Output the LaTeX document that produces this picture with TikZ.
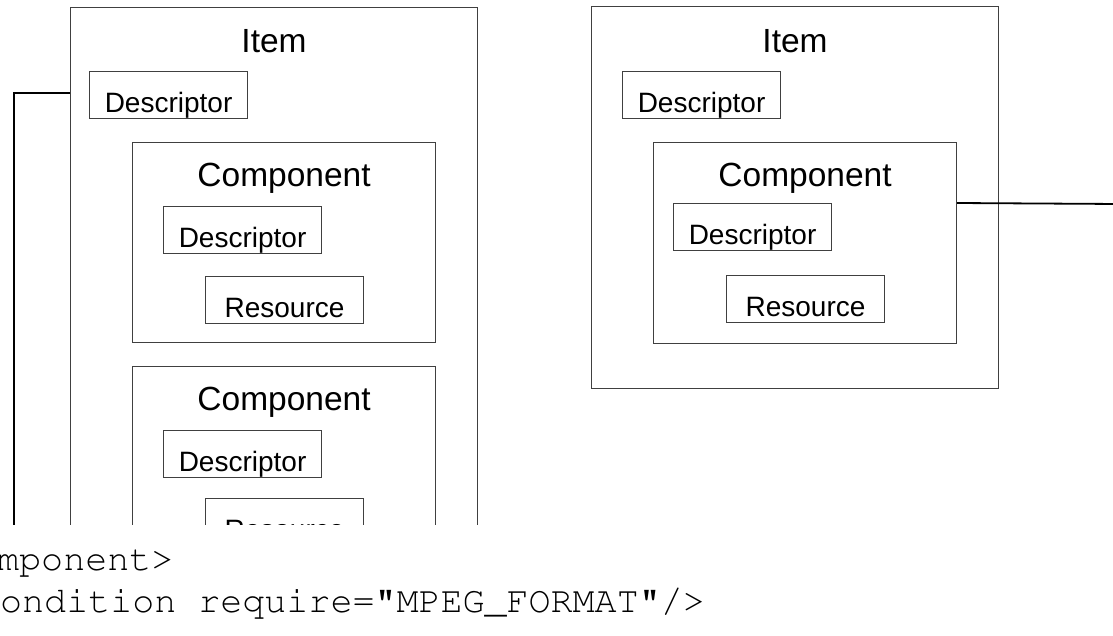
\documentclass[tikz,border=0pt]{standalone}
\usepackage[T1]{fontenc}
\usepackage{fontspec}
\setmainfont{Liberation Sans}
\usetikzlibrary{positioning,calc}
\newcommand{\codefont}{\fontencoding{T1}\fontfamily{pcr}\selectfont}

\begin{document}
\begin{tikzpicture}[x=1pt, y=-1pt,
    frame/.style={draw=black!75, line width=1.1pt, anchor=north west, inner sep=0pt},
    % small boxes: text set low, baseline 17pt under the middle
    tag/.style={frame, minimum width=158pt, minimum height=47pt,
                font=\fontsize{28}{30}\selectfont, text height=34pt, text depth=0pt},
    title/.style={anchor=base, inner sep=0pt, font=\fontsize{33.5}{36}\selectfont},
    wire/.style={line width=1.8pt},
    code/.style={anchor=base west, inner sep=0pt, font=\codefont\fontsize{36.7}{40}\selectfont}]
    \useasboundingbox (0,0) rectangle (1113,635);
    \clip (0,0) rectangle (1113,635);

    \begin{scope}
    \clip (0,0) rectangle (1113,524);
    % Item with two components
    \node[frame, minimum width=407pt, minimum height=600pt] (litem) at (70,7) {};
    \node[title] (litemt) at ([yshift=-45pt]litem.north) {Item};
    \node[tag] (ldesc) at (89,71) {Descriptor};
    \node[frame, minimum width=303pt, minimum height=200pt] (lcompa) at (132,142) {};
    \node[title] (lcompat) at ([yshift=-44pt]lcompa.north) {Component};
    \node[tag] (lcdesca) at (163,206) {Descriptor};
    \node[tag] (lresa) at (205,276) {Resource};
    \node[frame, minimum width=303pt, minimum height=200pt] (lcompb) at (132,366) {};
    \node[title] (lcompbt) at ([yshift=-44pt]lcompb.north) {Component};
    \node[tag] (lcdescb) at (163,430) {Descriptor};
    \node[tag] (lresb) at (205,498) {Resource};
    % Item with one component
    \node[frame, minimum width=407pt, minimum height=382pt] (ritem) at (591,6) {};
    \node[title] (ritemt) at ([yshift=-46pt]ritem.north) {Item};
    \node[tag] (rdesc) at (622,71) {Descriptor};
    \node[frame, minimum width=303pt, minimum height=201pt] (rcomp) at (653,142) {};
    \node[title] (rcompt) at ([yshift=-44pt]rcomp.north) {Component};
    \node[tag] (rcdesc) at (673,203) {Descriptor};
    \node[tag] (rres) at (726,275) {Resource};
    % Links
    \coordinate (lfoot) at (14,560);
    \coordinate (rout) at (1120,204);
    \draw[wire] ($(litem.west |- ldesc)+(0,-2)$) -| (lfoot);
    \draw[wire] (rcomp.east |- rcdesc.north) -- (rout);
    \end{scope}

    % Listing
    \node[code] (linea) at (-3,570) {mponent>};
    \node[code] (lineb) at (0,612) {ondition require="MPEG\_FORMAT"/>};
\end{tikzpicture}
\end{document}
